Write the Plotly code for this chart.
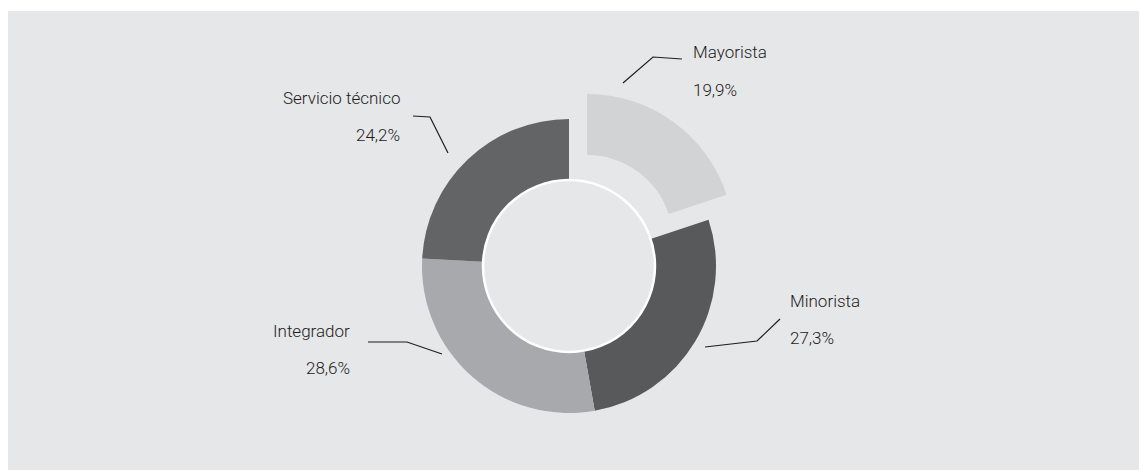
import plotly.graph_objects as go

# --- data ---
canales = ['Mayorista', 'Minorista', 'Integrador', 'Servicio técnico']
porcentajes = [19.9, 27.3, 28.6, 24.2]
etiquetas_pct = ['19,9%', '27,3%', '28,6%', '24,2%']

# --- styling / layout ---
colores = ['#d1d3d4', '#58595b', '#a7a9ac', '#636466']
tirado = [0.21, 0, 0, 0]
OFF = 8                 # page body margin of the html export
W, H = 1147 - OFF, 470 - OFF
ML, MT = 0, 3
FONDO = '#e6e7e8'
TEXTO = '#1c1c1c'

# pie placement in window pixels
CX, CY, R = 569, 266, 147
R_HUECO = 86

# leader lines (window pixel points) and text anchors, one per label
guias = {
    'Mayorista':        [(623, 83), (653, 57), (682, 59)],
    'Minorista':        [(705, 347), (757, 341), (780, 319)],
    'Integrador':       [(442, 354), (407, 342), (368, 342)],
    'Servicio técnico': [(448, 153), (430, 117), (413, 116)],
}
textos = {
    'Mayorista':        (691, 52, 90, 'left'),
    'Minorista':        (788, 301, 338, 'left'),
    'Integrador':       (352, 331, 368, 'right'),
    'Servicio técnico': (402, 98, 135, 'right'),
}


def px(x):
    return (x - OFF - ML) / (W - ML)


def py(y):
    return 1 - (y - OFF - MT) / (H - MT)


base = R * (1 + max(tirado))
dom_x = [px(CX - base), px(CX + base)]
dom_y = [py(CY + base), py(CY - base)]

fig = go.Figure(go.Pie(
    labels=canales,
    values=porcentajes,
    hole=R_HUECO / R,
    sort=False,
    direction='clockwise',
    rotation=0,
    pull=tirado,
    marker=dict(colors=colores, line=dict(width=0)),
    textinfo='none',
    hoverinfo='label+percent',
    domain=dict(x=dom_x, y=dom_y),
    showlegend=False,
))

shapes = [
    dict(type='rect', xref='paper', yref='paper', x0=0, x1=1, y0=0, y1=1,
         fillcolor=FONDO, line=dict(width=0), layer='below'),
    dict(type='circle', xref='paper', yref='paper',
         xsizemode='pixel', ysizemode='pixel',
         xanchor=px(CX), yanchor=py(CY),
         x0=-R_HUECO, x1=R_HUECO, y0=-R_HUECO, y1=R_HUECO,
         line=dict(color='white', width=2.5), layer='above'),
]
for nombre, pts in guias.items():
    path = 'M ' + ' L '.join(f'{px(x)},{py(y)}' for x, y in pts)
    shapes.append(dict(type='path', xref='paper', yref='paper', path=path,
                       line=dict(color='#1e1e1e', width=1.2)))

annotations = []
for nombre, pct in zip(canales, etiquetas_pct):
    x, y1, y2, lado = textos[nombre]
    for txt, yy in ((nombre, y1), (pct, y2)):
        annotations.append(dict(
            x=px(x), y=py(yy), xref='paper', yref='paper',
            text=txt, showarrow=False, xanchor=lado, yanchor='middle',
            font=dict(family='Roboto, Arial, sans-serif', size=17,
                      color=TEXTO, weight=300),
        ))

fig.update_layout(
    width=W, height=H,
    margin=dict(l=ML, t=MT, r=0, b=0),
    paper_bgcolor='white',
    plot_bgcolor=FONDO,
    shapes=shapes,
    annotations=annotations,
)

fig.write_html('out.html')
